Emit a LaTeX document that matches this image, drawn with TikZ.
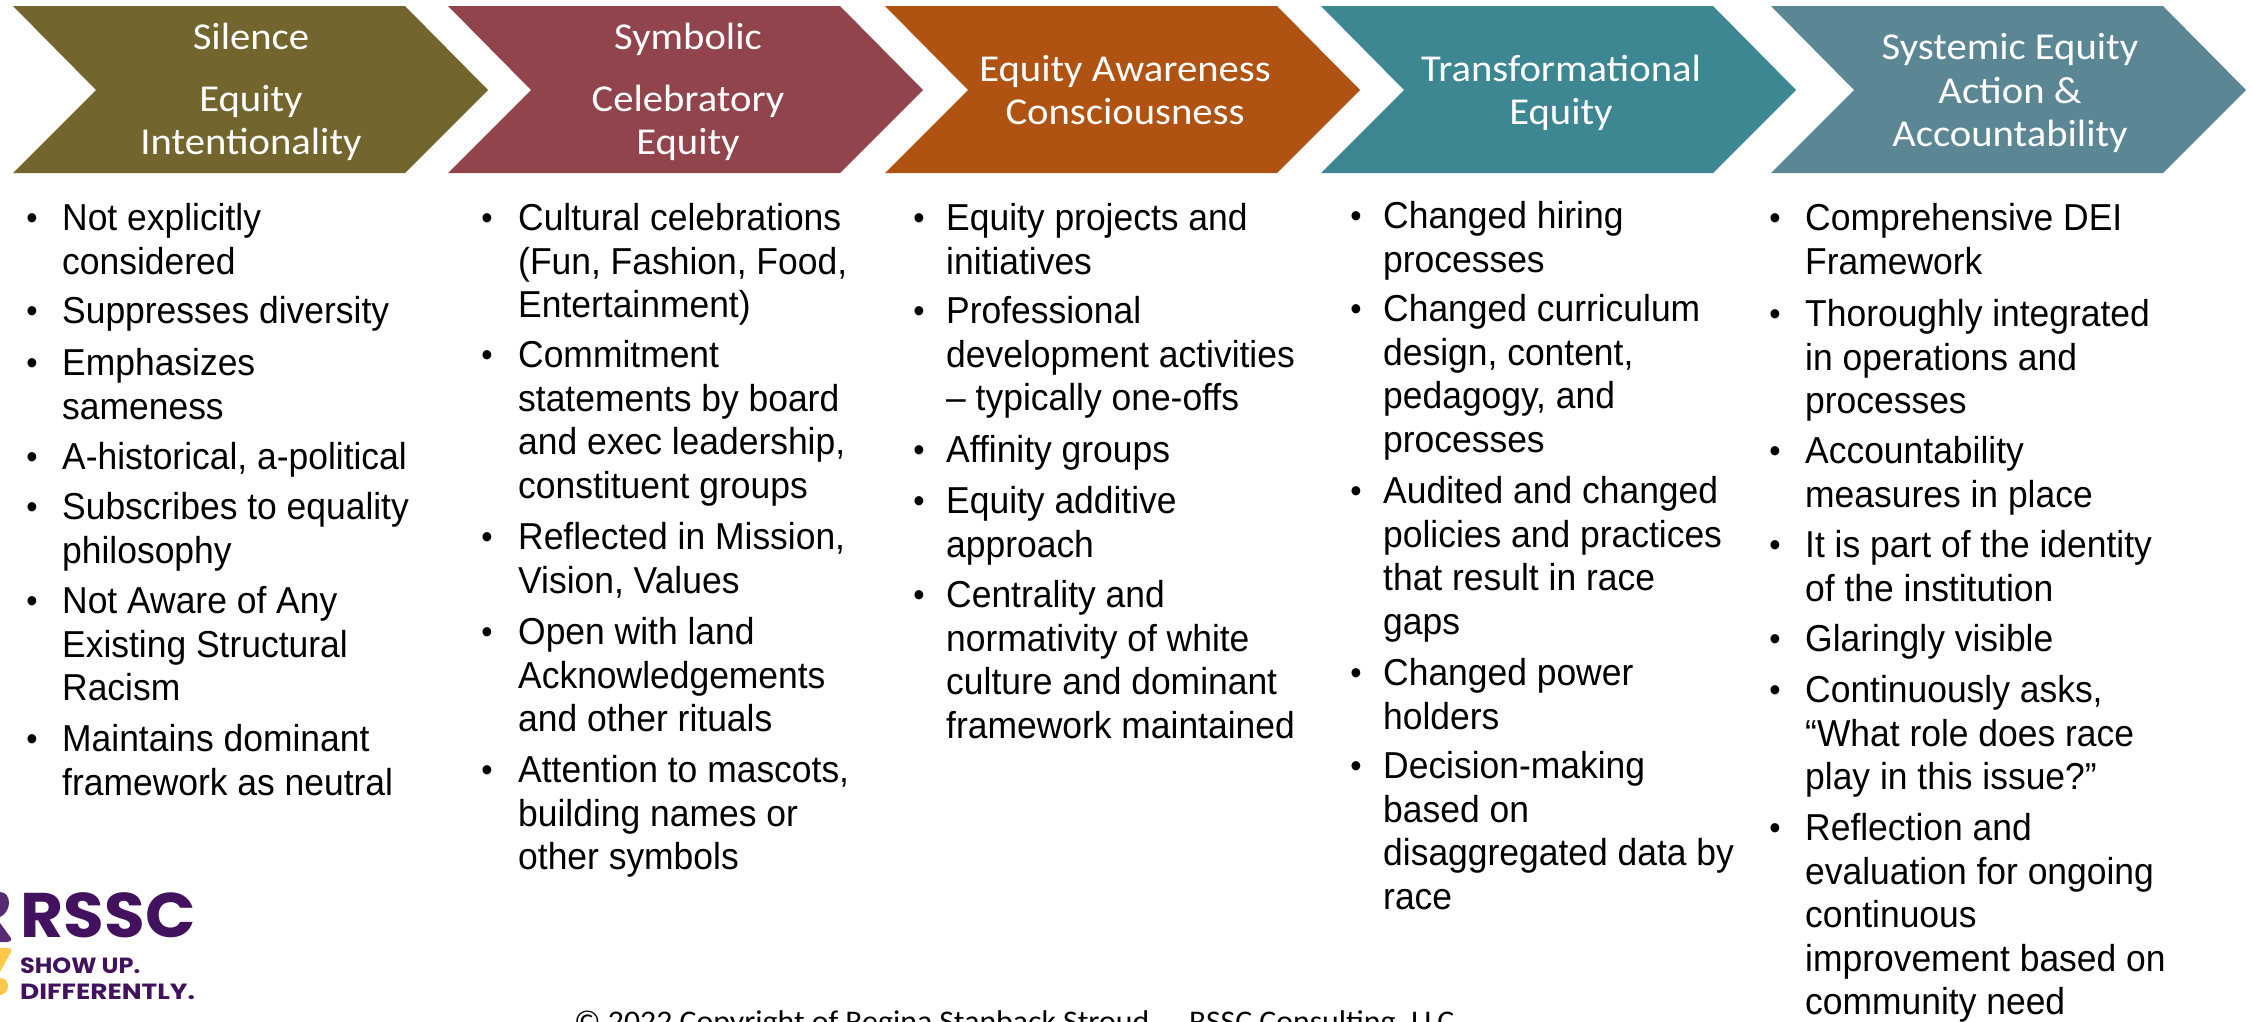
\documentclass[tikz,border=0pt]{standalone}
\usepackage{fontspec}
\setmainfont{Carlito}
\newfontfamily\bodyfont[FakeStretch=0.945]{Liberation Sans}
\newfontfamily\headfont[FakeStretch=1.07]{Carlito}
\newfontfamily\footfont[FakeStretch=1.06]{Carlito}
\newfontfamily\logofont[FakeStretch=1.05]{Poppins}
\newfontfamily\logofontA[FakeStretch=1.09]{Poppins}
\newfontfamily\logofontB[FakeStretch=1.2]{Poppins}
\definecolor{cOlive}{HTML}{72652D}
\definecolor{cRose}{HTML}{92444D}
\definecolor{cRust}{HTML}{B05312}
\definecolor{cTeal}{HTML}{3C8792}
\definecolor{cSlate}{HTML}{5B8794}
\definecolor{cPurple}{HTML}{43125F}
\definecolor{cPurpleB}{HTML}{572B73}
\definecolor{cGold}{HTML}{FBC84B}
\tikzset{
 x=1pt,y=-1pt,
 chev/.style={draw=none},
 headtxt/.style={text=white,inner sep=0pt,align=center,anchor=base,yshift=-1pt,font=\headfont\fontsize{38}{43.5}\selectfont},
 bodytxt/.style={text=black,inner sep=0pt,align=left,anchor=north west,yshift=29.3pt,font=\bodyfont\fontsize{37.5}{43.5}\selectfont},
 bullettxt/.style={text=black,inner sep=0pt,anchor=base,yshift=0.8pt,font=\bodyfont\fontsize{34}{34}\selectfont},
}
\newcommand{\chevron}[2]{% left x, colour
 \path[chev,fill=#2] (#1,6) -- (#1+392,6) -- (#1+475,90) -- (#1+392,173) -- (#1,173) -- (#1+83,90) -- cycle;
}
\newcommand{\bul}[5]{% name, bullet x, text x, baseline y, lines
 \node[bullettxt] (#1b) at (#2,#4) {•};
 \node[bodytxt] (#1) at (#3,#4) {\rule{0pt}{30pt}#5};
}
\begin{document}
\begin{tikzpicture}
\useasboundingbox (0,0) rectangle (2252,1021);
\clip (0,0) rectangle (2252,1021);
\fill[white] (0,0) rectangle (2252,1021);
\chevron{13}{cOlive}
\chevron{448}{cRose}
\chevron{885}{cRust}
\chevron{1321}{cTeal}
\chevron{1771}{cSlate}
\node[headtxt] (h1a) at (251,48) {Silence};
\node[headtxt] (h1b) at (251,110) {Equity};
\node[headtxt] (h1c) at (251,153) {Intentionality};
\node[headtxt] (h2a) at (688,48) {Symbolic};
\node[headtxt] (h2b) at (688,110) {Celebratory};
\node[headtxt] (h2c) at (688,153) {Equity};
\node[headtxt] (h3a) at (1125,80) {Equity Awareness};
\node[headtxt] (h3b) at (1125,123) {Consciousness};
\node[headtxt] (h4a) at (1561,80) {Transformational};
\node[headtxt] (h4b) at (1561,123) {Equity};
\node[headtxt] (h5a) at (2010,58) {Systemic Equity};
\node[headtxt] (h5b) at (2010,102) {Action \&};
\node[headtxt] (h5c) at (2010,145) {Accountability};
% column 1
\bul{a1}{32}{62}{230}{Not explicitly\\considered}
\bul{a2}{32}{62}{323}{Suppresses diversity}
\bul{a3}{32}{62}{375}{Emphasizes\\sameness}
\bul{a4}{32}{62}{469}{A-historical, a-political}
\bul{a5}{32}{62}{519}{Subscribes to equality\\philosophy}
\bul{a6}{32}{62}{613}{Not Aware of Any\\Existing Structural\\Racism}
\bul{a7}{32}{62}{751}{Maintains dominant\\framework as neutral}
% column 2
\bul{b1}{487}{518}{230}{Cultural celebrations\\(Fun, Fashion, Food,\\Entertainment)}
\bul{b2}{487}{518}{367}{Commitment\\statements by board\\and exec leadership,\\constituent groups}
\bul{b3}{487}{518}{549}{Reflected in Mission,\\Vision, Values}
\bul{b4}{487}{518}{644}{Open with land\\Acknowledgements\\and other rituals}
\bul{b5}{487}{518}{782}{Attention to mascots,\\building names or\\other symbols}
% column 3
\bul{c1}{919}{946}{230}{Equity projects and\\initiatives}
\bul{c2}{919}{946}{323}{Professional\\development activities\\– typically one-offs}
\bul{c3}{919}{946}{462}{Affinity groups}
\bul{c4}{919}{946}{513}{Equity additive\\approach}
\bul{c5}{919}{946}{607}{Centrality and\\normativity of white\\culture and dominant\\framework maintained}
% column 4
\bul{d1}{1356}{1383}{228}{Changed hiring\\processes}
\bul{d2}{1356}{1383}{321}{Changed curriculum\\design, content,\\pedagogy, and\\processes}
\bul{d3}{1356}{1383}{503}{Audited and changed\\policies and practices\\that result in race\\gaps}
\bul{d4}{1356}{1383}{685}{Changed power\\holders}
\bul{d5}{1356}{1383}{778}{Decision-making\\based on\\disaggregated data by\\race}
% column 5
\bul{e1}{1775}{1805}{230}{Comprehensive DEI\\Framework}
\bul{e2}{1775}{1805}{326}{Thoroughly integrated\\in operations and\\processes}
\bul{e3}{1775}{1805}{463}{Accountability\\measures in place}
\bul{e4}{1775}{1805}{557}{It is part of the identity\\of the institution}
\bul{e5}{1775}{1805}{651}{Glaringly visible}
\bul{e6}{1775}{1805}{702}{Continuously asks,\\“What role does race\\play in this issue?”}
\bul{e7}{1775}{1805}{840}{Reflection and\\evaluation for ongoing\\continuous\\improvement based on\\community need}
% footer
\node[inner sep=0pt,anchor=base west,font=\footfont\fontsize{30}{30}\selectfont] (foot) at (574,1031) {© 2022 Copyright of Regina Stanback Stroud\hspace{40pt}RSSC Consulting, LLC};
% logo
\node[inner sep=0pt,anchor=base west,text=cPurple,font=\logofont\bfseries\fontsize{63}{63}\selectfont] (logo1) at (20.5,937) {RSSC};
\node[inner sep=0pt,anchor=base west,text=cPurple,font=\logofontA\bfseries\fontsize{22}{22}\selectfont] (logo2) at (20,973) {SHOW UP.};
\node[inner sep=0pt,anchor=base west,text=cPurple,font=\logofontB\bfseries\fontsize{22}{22}\selectfont] (logo3) at (20,999) {DIFFERENTLY.};
\fill[cPurpleB] (0,892) .. controls (6,892) and (9,897) .. (9,903) .. controls (9,909) and (5,915) .. (0,917) -- cycle;
\fill[cPurpleB] (0,923) -- (11,938) .. controls (12,941) and (9,942) .. (7,942) -- (0,942) -- cycle;
\fill[cGold] (0,948) -- (8,948) .. controls (11,948) and (12,950) .. (11,952) -- (0,972) -- cycle;
\fill[cGold] (0,978) .. controls (5,978) and (8,982) .. (8,986) .. controls (8,991) and (4,995) .. (0,995) -- cycle;
\end{tikzpicture}
\end{document}
